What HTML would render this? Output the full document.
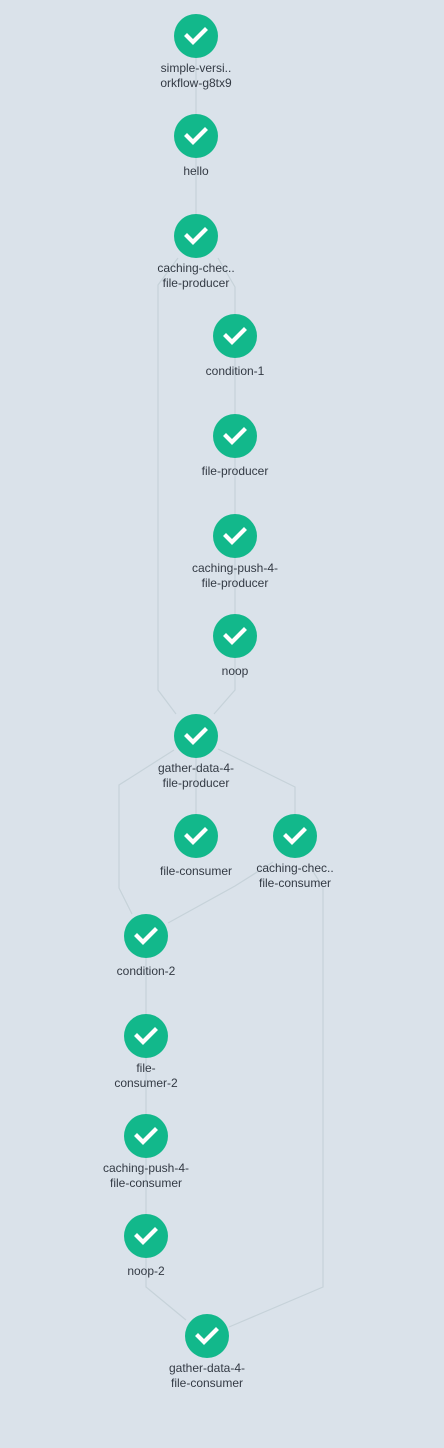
<!DOCTYPE html>
<html><head><meta charset="utf-8"><style>
html,body{margin:0;padding:0;background:#dae2ea;}
svg{display:block}
text{font-family:"Liberation Sans",sans-serif;font-size:12px;fill:#333a44;text-anchor:middle}
</style></head><body>
<svg width="444" height="1448" viewBox="0 0 444 1448">
<g stroke="#c6d2d9" stroke-width="1.2" fill="none">
<path d="M196 58V114"/>
<path d="M196 158V214"/>
<path d="M218 258L235 287V314"/>
<path d="M235 358V414"/>
<path d="M235 458V514"/>
<path d="M235 558V614"/>
<path d="M178 258L158 285V690L176 714"/>
<path d="M235 658V690L214 714"/>
<path d="M196 758V814"/>
<path d="M218 749L295 787V814"/>
<path d="M174 750L119 785V888L132 914"/>
<path d="M273 862L235 886L168 923"/>
<path d="M312 870L323 887V1287L229 1327"/>
<path d="M146 958V1014"/>
<path d="M146 1058V1114"/>
<path d="M146 1158V1214"/>
<path d="M146 1258V1287L186 1320"/>
</g>
<defs>
<g id="n"><circle r="22" fill="#12b88b"/><path d="M-9 0L-3 6L9 -6" stroke="#fff" stroke-width="4.2" fill="none" stroke-linecap="square"/></g>
</defs>
<use href="#n" x="196" y="36"/>
<use href="#n" x="196" y="136"/>
<use href="#n" x="196" y="236"/>
<use href="#n" x="235" y="336"/>
<use href="#n" x="235" y="436"/>
<use href="#n" x="235" y="536"/>
<use href="#n" x="235" y="636"/>
<use href="#n" x="196" y="736"/>
<use href="#n" x="196" y="836"/>
<use href="#n" x="295" y="836"/>
<use href="#n" x="146" y="936"/>
<use href="#n" x="146" y="1036"/>
<use href="#n" x="146" y="1136"/>
<use href="#n" x="146" y="1236"/>
<use href="#n" x="207" y="1336"/>
<text x="196" y="72">simple-versi..</text><text x="196" y="87">orkflow-g8tx9</text>
<text x="196" y="175">hello</text>
<text x="196" y="272">caching-chec..</text><text x="196" y="287">file-producer</text>
<text x="235" y="375">condition-1</text>
<text x="235" y="475">file-producer</text>
<text x="235" y="572">caching-push-4-</text><text x="235" y="587">file-producer</text>
<text x="235" y="675">noop</text>
<text x="196" y="772">gather-data-4-</text><text x="196" y="787">file-producer</text>
<text x="196" y="875">file-consumer</text>
<text x="295" y="872">caching-chec..</text><text x="295" y="887">file-consumer</text>
<text x="146" y="975">condition-2</text>
<text x="146" y="1072">file-</text><text x="146" y="1087">consumer-2</text>
<text x="146" y="1172">caching-push-4-</text><text x="146" y="1187">file-consumer</text>
<text x="146" y="1275">noop-2</text>
<text x="207" y="1372">gather-data-4-</text><text x="207" y="1387">file-consumer</text>
</svg>
</body></html>
